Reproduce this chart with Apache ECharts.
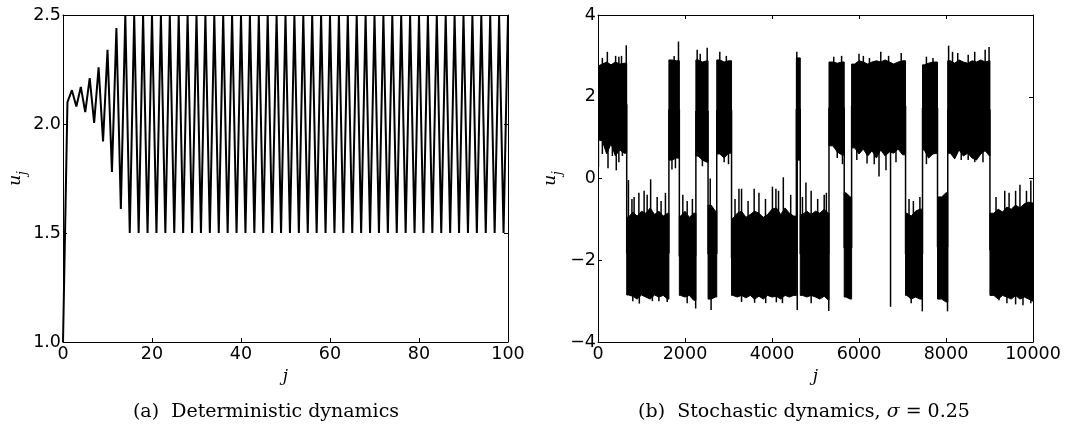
<!DOCTYPE html>
<html><head><meta charset="utf-8">
<script src="https://cdn.jsdelivr.net/npm/echarts@6/dist/echarts.min.js"></script>
<style>html,body{margin:0;padding:0;background:#fff}#c{width:1071px;height:429px}</style>
</head><body><div id="c"></div>
<script>
// ---------- (a) deterministic dynamics ----------
const detU = [1.00, 2.10, 2.155, 2.08, 2.17, 2.055, 2.21, 2.005, 2.26, 1.92,
  2.34, 1.78, 2.44, 1.61, 2.50, 1.50, 2.50, 1.50, 2.50, 1.50,
  2.50, 1.50, 2.50, 1.50, 2.50, 1.50, 2.50, 1.50, 2.50, 1.50,
  2.50, 1.50, 2.50, 1.50, 2.50, 1.50, 2.50, 1.50, 2.50, 1.50,
  2.50, 1.50, 2.50, 1.50, 2.50, 1.50, 2.50, 1.50, 2.50, 1.50,
  2.50, 1.50, 2.50, 1.50, 2.50, 1.50, 2.50, 1.50, 2.50, 1.50,
  2.50, 1.50, 2.50, 1.50, 2.50, 1.50, 2.50, 1.50, 2.50, 1.50,
  2.50, 1.50, 2.50, 1.50, 2.50, 1.50, 2.50, 1.50, 2.50, 1.50,
  2.50, 1.50, 2.50, 1.50, 2.50, 1.50, 2.50, 1.50, 2.50, 1.50,
  2.50, 1.50, 2.50, 1.50, 2.50, 1.50, 2.50, 1.50, 2.50, 1.50,
  2.50];
const detJ = detU.map((_, i) => i);
const detXTicks = [0, 20, 40, 60, 80, 100];
const detYTicks = [1.0, 1.5, 2.0, 2.5];
const detYTickLabels = ['1.0', '1.5', '2.0', '2.5'];

// ---------- (b) stochastic dynamics ----------
// band envelope of the noisy trajectory, read every 100 steps
const envStep = 100;
const envHi = [2.75, 2.80, 2.85, 2.78, 2.85, 2.80, 2.82, -0.95, -0.82, -0.92,
  -0.80, -0.85, -0.72, -0.88, -0.80, -0.92, -0.85, 2.90, 2.88, -0.92,
  -0.80, -0.95, -0.85, 2.90, 2.85, 2.88, -0.65, -0.80, 2.90, 2.85,
  2.88, -0.98, -0.85, -0.80, -0.95, -0.88, -0.80, -0.85, -0.95, -0.88,
  -0.75, -0.72, -0.88, -0.72, -0.85, -0.92, 2.95, -0.88, -0.80, -0.88,
  -0.80, -0.85, -0.75, -0.85, 2.85, 2.82, 2.85, -0.35, -0.45, 2.80,
  2.88, 2.85, 2.80, 2.85, 2.88, 2.85, 2.90, 2.85, 2.80, 2.85,
  2.88, -0.85, -0.92, -0.80, -0.75, 2.78, 2.82, 2.85, 2.85, -0.45,
  -0.35, 2.88, 2.82, 2.90, 2.85, 2.82, 2.88, 2.85, 2.90, 2.85,
  2.88, -0.85, -0.75, -0.82, -0.70, -0.75, -0.65, -0.72, -0.62, -0.58,
  -0.60];
const envLo = [0.95, 0.92, 0.60, 0.85, 0.55, 0.70, 0.62, -2.85, -2.88, -2.95,
  -2.85, -2.90, -2.95, -2.85, -2.90, -2.86, -2.95, 0.45, 0.50, -2.86,
  -2.90, -2.86, -2.98, 0.55, 0.45, 0.40, -2.95, -2.90, 0.60, 0.50,
  0.62, -2.86, -2.90, -2.86, -2.92, -2.86, -2.95, -2.88, -2.95, -2.86,
  -2.90, -2.88, -2.95, -2.86, -2.90, -2.86, 0.45, -2.86, -2.90, -2.86,
  -2.90, -2.95, -2.88, -2.98, 0.80, 0.65, 0.58, -2.90, -2.95, 0.75,
  0.60, 0.72, 0.55, 0.68, 0.50, 0.70, 0.55, 0.65, 0.62, 0.72,
  0.58, -2.86, -2.95, -2.90, -2.95, 0.70, 0.50, 0.60, 0.62, -2.95,
  -3.02, 0.62, 0.48, 0.70, 0.55, 0.62, 0.50, 0.45, 0.60, 0.68,
  0.55, -2.86, -2.95, -2.86, -2.90, -2.95, -2.86, -2.95, -2.90, -2.95,
  -3.00];
// metastable episodes (step where each begins / ends)
const blockStart = [0, 660, 1630, 1870, 2250, 2530, 2730, 3070, 4560, 4650, 5310, 5660, 5830, 7070, 7460, 7805, 8040, 9010];
const blockEnd = [660, 1630, 1870, 2250, 2530, 2730, 3070, 4560, 4650, 5310, 5660, 5830, 7070, 7460, 7805, 8040, 9010, 10000];
// isolated extreme values sticking out of the band
const spikeJ = [215, 405, 480, 650, 1850, 2280, 2510, 2800, 2950, 4570, 5420, 6000, 6240, 6500, 6680, 6970, 7700, 8060, 8270, 8510, 8660, 8900, 8990,
  100, 540, 1750, 2350, 5600, 6100, 7550, 8150,
  10, 230, 420, 480, 560, 1700, 2900, 5500, 6185, 6460, 6620, 6725, 8180, 8510, 8660,
  100, 330, 1780, 2400, 3000, 5620, 5950, 6350, 6850, 7550, 8350, 8850,
  700, 830, 940, 1060, 1210, 1360, 1550, 1950, 2170, 2580, 3240, 3300, 3590, 3700, 4010, 4090, 4260, 4430, 4780, 4900, 5200, 7150, 7400, 9350, 9700, 9950,
  780, 1130, 1450, 2050, 3150, 3450, 3850, 4150, 4700, 5050, 5250, 7250, 9150, 9450, 9600, 9850,
  950, 1250, 1590, 2245, 2600, 3855, 4240, 4580, 5305, 7455, 8035, 9220, 9770, 9950,
  800, 1400, 2050, 3300, 3600, 4100, 4900, 7200, 9400, 9600];
const spikeU = [3.10, 3.00, 2.98, 3.26, 3.35, 3.15, 3.20, 3.10, 3.00, 3.10, 2.98, 3.05, 2.95, 3.10, 3.00, 3.07, 2.95, 3.25, 3.07, 3.03, 3.10, 3.15, 3.22,
  2.95, 3.00, 3.00, 3.05, 3.00, 3.00, 2.98, 3.10,
  0.28, 0.25, 0.20, 0.40, 0.55, 0.22, 0.40, 0.50, 0.37, 0.05, 0.20, -3.14, 0.50, 0.45, 0.40,
  0.60, 0.55, 0.25, 0.30, 0.35, 0.35, 0.45, 0.35, 0.40, 0.35, 0.45, 0.40,
  -0.04, -0.45, -0.35, -0.30, -0.02, -0.45, -0.35, -0.40, -0.50, 0.00, -0.25, -0.25, -0.25, -0.35, -0.20, -0.25, 0.03, -0.40, -0.10, -0.30, -0.40, -0.50, -0.45, -0.30, -0.15, -0.05,
  -0.50, -0.40, -0.55, -0.55, -0.50, -0.55, -0.50, -0.30, -0.45, -0.50, -0.35, -0.55, -0.45, -0.35, -0.30, -0.30,
  -3.06, -3.00, -3.02, -3.18, -3.22, -3.05, -3.05, -3.22, -3.24, -3.25, -3.25, -2.98, -3.10, -3.05,
  -3.00, -3.00, -3.05, -3.02, -3.04, -3.03, -3.05, -3.05, -3.05, -3.08];
const stoXTicks = [0, 2000, 4000, 6000, 8000, 10000];
const stoYTicks = [-4, -2, 0, 2, 4];
const stoYTickLabels = ['\u22124', '\u22122', '0', '2', '4'];

function blockOf(j) {
  for (let i = 0; i < blockStart.length; i++) if (j >= blockStart[i] && j <= blockEnd[i]) return i;
  return blockStart.length - 1;
}
function gridIdx(i) {
  const ks = [];
  for (let k = 0; k < envHi.length; k++) { const j = k * envStep; if (j >= blockStart[i] && j <= blockEnd[i]) ks.push(k); }
  return ks;
}
function blockMid(i) {
  const ks = gridIdx(i); const k = ks[Math.floor(ks.length / 2)];
  return (envHi[k] + envLo[k]) / 2;
}

const TICKF = 'DejaVu Sans';
const TICKS = 17.5;
function mkX(grid, min, max, interval, ticks, pos) {
  return {
    gridIndex: grid, type: 'value', min: min, max: max, interval: interval, position: pos,
    axisLine: { show: true, onZero: false, lineStyle: { color: '#000', width: 1 } },
    axisTick: { show: true, inside: true, length: 4, lineStyle: { color: '#000', width: 1 } },
    axisLabel: { show: pos === 'bottom', margin: 3, fontFamily: TICKF, fontSize: TICKS, color: '#000',
      formatter: v => ticks.indexOf(v) >= 0 ? String(v) : '' },
    splitLine: { show: false },
    name: pos === 'bottom' ? 'j' : '', nameLocation: 'middle', nameGap: 24,
    nameTextStyle: { fontFamily: 'DejaVu Serif', fontStyle: 'italic', fontSize: 17, color: '#000' }
  };
}
function mkY(grid, min, max, interval, ticks, labels, pos) {
  return {
    gridIndex: grid, type: 'value', min: min, max: max, interval: interval, position: pos,
    axisLine: { show: true, onZero: false, lineStyle: { color: '#000', width: 1 } },
    axisTick: { show: true, inside: true, length: 4, lineStyle: { color: '#000', width: 1 } },
    axisLabel: { show: pos === 'left', margin: 2, fontFamily: TICKF, fontSize: TICKS, color: '#000',
      formatter: v => { const i = ticks.findIndex(t => Math.abs(t - v) < 1e-9); return i >= 0 ? labels[i] : ''; } },
    splitLine: { show: false },
    name: pos === 'left' ? '{u|u}{s|j}' : '', nameLocation: 'middle', nameGap: 34,
    nameTextStyle: { color: '#000', rich: {
      u: { fontFamily: 'DejaVu Serif', fontStyle: 'italic', fontSize: 17, lineHeight: 20, color: '#000' },
      s: { fontFamily: 'DejaVu Serif', fontStyle: 'italic', fontSize: 12, lineHeight: 26, verticalAlign: 'bottom', color: '#000' } } }
  };
}

const chart = echarts.init(document.getElementById('c'), null, { renderer: 'canvas' });
chart.setOption({
  animation: false,
  backgroundColor: '#fff',
  grid: [
    { left: 63, top: 15, width: 445, height: 327 },
    { left: 598, top: 15, width: 435, height: 327 }
  ],
  xAxis: [
    mkX(0, 0, 100, 20, detXTicks, 'bottom'), mkX(0, 0, 100, 20, detXTicks, 'top'),
    mkX(1, 0, 10000, 2000, stoXTicks, 'bottom'), mkX(1, 0, 10000, 2000, stoXTicks, 'top')
  ],
  yAxis: [
    mkY(0, 1, 2.5, 0.5, detYTicks, detYTickLabels, 'left'), mkY(0, 1, 2.5, 0.5, detYTicks, detYTickLabels, 'right'),
    mkY(1, -4, 4, 2, stoYTicks, stoYTickLabels, 'left'), mkY(1, -4, 4, 2, stoYTicks, stoYTickLabels, 'right')
  ],
  graphic: [
    { type: 'text', x: 266, y: 412, style: { text: '(a)  Deterministic dynamics', fontFamily: 'DejaVu Serif', fontSize: 19, fill: '#000', align: 'center', verticalAlign: 'middle' } },
    { type: 'text', x: 804, y: 412, style: { text: '(b)  Stochastic dynamics, {i|\u03c3} = 0.25', fontFamily: 'DejaVu Serif', fontSize: 19, fill: '#000', align: 'center', verticalAlign: 'middle',
      rich: { i: { fontFamily: 'DejaVu Serif', fontStyle: 'italic', fontSize: 19, fill: '#000' } } } }
  ],
  series: [
    {
      type: 'line', xAxisIndex: 0, yAxisIndex: 0, showSymbol: false, symbol: 'none',
      data: detJ.map((j, i) => [j, detU[i]]),
      lineStyle: { color: '#000', width: 2 }, clip: true
    },
    {
      type: 'custom', xAxisIndex: 2, yAxisIndex: 2, clip: true,
      data: blockStart.map((s, i) => [s, blockEnd[i]]),
      encode: { x: [0, 1] },
      renderItem: function (params, api) {
        const i = params.dataIndex;
        const s = blockStart[i], e = blockEnd[i];
        const ks = gridIdx(i);
        const top = [], bot = [];
        const k0 = ks[0], k1 = ks[ks.length - 1];
        if (k0 * envStep > s) { top.push(api.coord([s, envHi[k0]])); bot.push(api.coord([s, envLo[k0]])); }
        ks.forEach(k => { top.push(api.coord([k * envStep, envHi[k]])); bot.push(api.coord([k * envStep, envLo[k]])); });
        if (k1 * envStep < e) { top.push(api.coord([e, envHi[k1]])); bot.push(api.coord([e, envLo[k1]])); }
        const children = [{ type: 'polygon', shape: { points: top.concat(bot.reverse()) },
          style: { fill: '#000', stroke: '#000', lineWidth: 1 } }];
        if (i < blockStart.length - 1) {
          const a = api.coord([e, blockMid(i)]), b = api.coord([e, blockMid(i + 1)]);
          children.push({ type: 'line', shape: { x1: a[0], y1: a[1], x2: b[0], y2: b[1] }, style: { stroke: '#000', lineWidth: 1.5 } });
        }
        return { type: 'group', children: children };
      }
    },
    {
      type: 'custom', xAxisIndex: 2, yAxisIndex: 2, clip: true,
      data: spikeJ.map((j, i) => [j, spikeU[i]]),
      encode: { x: 0, y: 1 },
      renderItem: function (params, api) {
        const j = api.value(0), u = api.value(1);
        const a = api.coord([j, blockMid(blockOf(j))]), b = api.coord([j, u]);
        return { type: 'line', shape: { x1: a[0], y1: a[1], x2: b[0], y2: b[1] }, style: { stroke: '#000', lineWidth: 1.5 } };
      }
    }
  ]
});
</script></body></html>
